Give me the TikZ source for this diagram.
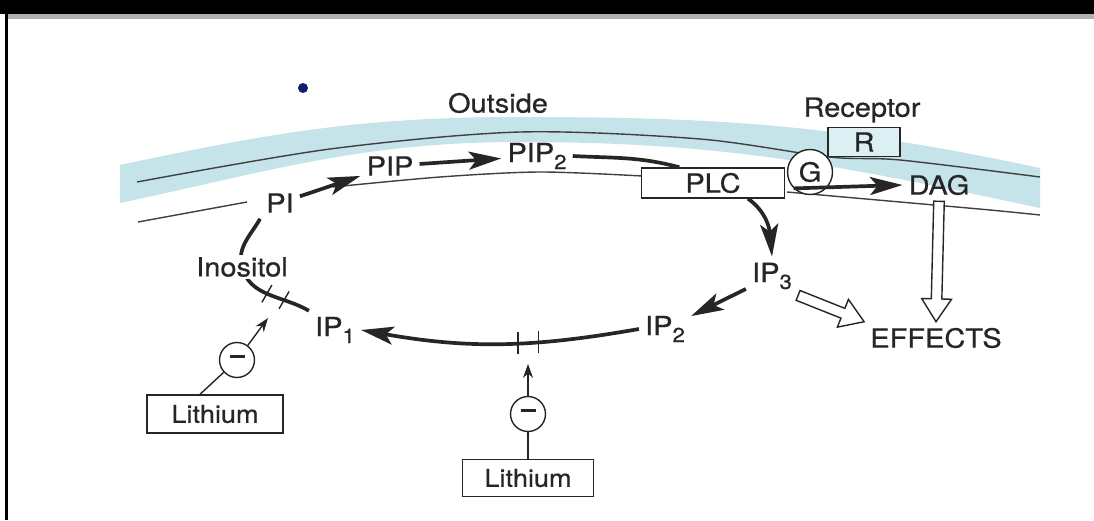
\documentclass[tikz,border=0pt]{standalone}
\usepackage{fontspec}
\setmainfont{TeX Gyre Heros}[FakeStretch=1.1,FakeBold=0.6]
\usepackage{tikz}
\usetikzlibrary{arrows.meta,calc}
\definecolor{membrane}{RGB}{196,228,234}
\definecolor{inkgray}{RGB}{38,38,38}
\definecolor{dotblue}{RGB}{20,30,110}
\newcommand{\lowsub}[1]{\raisebox{-0.5ex}{\fontsize{11.5}{10}\selectfont #1}}
\newcommand{\minusbar}{\rule[0.5ex]{0.3cm}{1.2pt}}
\newcommand{\openarrow}[2]{%
  \coordinate (oaneck) at ($(#2)!13pt!(#1)$);
  \draw[hollow] ($(#1)!3pt!90:(#2)$) -- ($(oaneck)!3pt!90:(#2)$) -- ($(oaneck)!8.5pt!90:(#2)$)
    -- (#2) -- ($(oaneck)!8.5pt!-90:(#2)$) -- ($(oaneck)!3pt!-90:(#2)$) -- ($(#1)!3pt!-90:(#2)$) -- cycle;}

\begin{document}
\begin{tikzpicture}[x=0.02cm,y=0.02cm,
  lab/.style={text=inkgray,font=\fontsize{15}{17}\selectfont},
  boxed/.style={lab,draw=inkgray,line width=0.8pt,fill=white,inner sep=0pt},
  ring/.style={lab,draw=inkgray,line width=0.8pt,fill=white,circle,inner sep=0pt},
  fat/.style={line width=2.1pt,draw=inkgray,-{Stealth[length=6.5mm,width=3.6mm,inset=1.5mm]}},
  fatline/.style={line width=2.1pt,draw=inkgray},
  thinline/.style={line width=0.8pt,draw=inkgray},
  thinarrow/.style={thinline,-{Stealth[length=2.8mm,width=2mm]}},
  barline/.style={line width=0.8pt,draw=inkgray},
  membraneline/.style={line width=0.8pt,draw=black!75},
  hollow/.style={line width=0.8pt,draw=inkgray,fill=white}]
  \useasboundingbox (0,0) rectangle (1094,-520);
  \fill[white] (0,0) rectangle (1094,-520);
  \fill[black] (0,0) rectangle (1094,-14);
  \fill[black!30] (8,-14) rectangle (1094,-19);
  \fill[black] (5,0) rectangle (8,-520);

  \fill[membrane] (120,-165) to[out=12,in=180] (520,-117) to[out=0,in=168] (1040,-168)
    -- (1040,-208) to[out=168,in=0] (520,-142) to[out=180,in=12] (120,-203) -- cycle;
  \draw[membraneline] plot[smooth] coordinates {(137,-182) (330,-149) (520,-132) (700,-139) (829,-157) (900,-160) (1040,-177)};
  \draw[membraneline] (138,-222) -- (247,-202);
  \draw[membraneline] plot[smooth] coordinates {(333,-187) (440,-177) (540,-172) (642,-176)};
  \draw[membraneline] plot[smooth] coordinates {(787,-192) (900,-202) (990,-210) (1040,-215)};
  \fill[dotblue] (303,-88) circle (5);

  \node[lab] (outside) at (498,-103) {Outside};
  \node[lab] (receptor) at (862,-110) {Receptor};
  \node[boxed,fill=membrane!60,minimum width=1.44cm,minimum height=0.58cm] (rec) at (864,-142) {R};
  \node[boxed,minimum width=2.86cm,minimum height=0.6cm] (plc) at (713,-183) {PLC};
  \node[ring,minimum size=0.9cm] (gprot) at (810,-172) {G};
  \node[lab] (dag) at (939,-185) {DAG};
  \node[lab] (pi) at (280,-203) {PI};
  \node[lab] (pip) at (390,-166) {PIP};
  \node[lab] (piptwo) at (537,-156) {PIP\lowsub{2}};
  \node[lab] (ipthree) at (772,-276) {IP\lowsub{3}};
  \node[lab] (iptwo) at (665,-329) {IP\lowsub{2}};
  \node[lab] (ipone) at (335,-330) {IP\lowsub{1}};
  \node[lab] (effects) at (936,-338) {EFFECTS};
  \node[ring,minimum size=0.7cm] (minusA) at (237,-360) {\minusbar};
  \node[boxed,minimum width=2.72cm,minimum height=0.76cm,font=\fontsize{14}{16}\selectfont] (lithA) at (215,-414) {Lithium};
  \node[ring,minimum size=0.7cm] (minusB) at (528,-414) {\minusbar};
  \node[boxed,minimum width=2.62cm,minimum height=0.74cm,font=\fontsize{14}{16}\selectfont] (lithB) at (528,-478) {Lithium};

  \draw[fat] (pi) -- (pip);
  \draw[fat] (pip) -- (piptwo);
  \draw[fatline] (piptwo.east) to[out=-3,in=165] (plc.155);
  \draw[fat] (gprot.south west) -- (dag.west);
  \draw[fat] ($(plc.south)+(35,0)$) to[out=-35,in=95] (ipthree.north);
  \draw[fat] (ipthree) -- (iptwo);
  \openarrow{ipthree.south east}{effects.north west}
  \openarrow{dag.south}{effects.north}

  \draw[fat] (iptwo.west) to[out=190,in=-10] coordinate[pos=0.35] (tickA) coordinate[pos=0.43] (tickB) (ipone.east);
  \draw[barline] ($(tickA)+(0,11)$) -- ($(tickA)+(0,-11)$);
  \draw[barline] ($(tickB)+(0,11)$) -- ($(tickB)+(0,-11)$);
  \coordinate (blockB) at ($(minusB)+(0,50)$);
  \draw[thinline] (lithB) -- (minusB);
  \draw[thinarrow] (minusB) -- (blockB);

  \coordinate (inosmid) at (242,-267);
  \draw[fatline] (ipone.north west) to[out=150,in=-75] coordinate[pos=0.3] (tickC) coordinate[pos=0.52] (tickD) (inosmid)
    to[out=105,in=-120] (pi.south west);
  \draw[barline] ($(tickC)+(60:10)$) -- ($(tickC)+(240:10)$);
  \draw[barline] ($(tickD)+(60:10)$) -- ($(tickD)+(240:10)$);
  \coordinate (blockA) at (268,-318);
  \draw[thinline] ($(lithA.north)+(-15,0)$) -- (minusA);
  \draw[thinarrow] (minusA) -- (blockA);
  \node[lab,fill=white,inner sep=1pt] (inos) at (inosmid) {Inositol};
\end{tikzpicture}
\end{document}
